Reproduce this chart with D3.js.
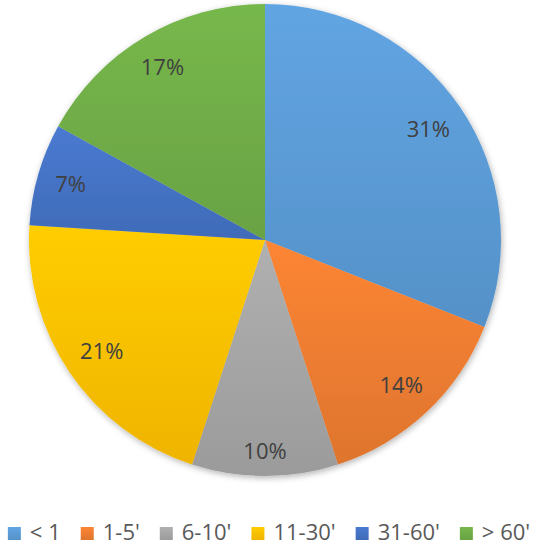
<!DOCTYPE html>
<html>
<head>
<meta charset="utf-8">
<script src="https://cdn.jsdelivr.net/npm/d3@7"></script>
<style>
  html, body { margin: 0; padding: 0; background: #fff; }
  svg { display: block; font-family: "Open Sans", "Liberation Sans", sans-serif; }
</style>
</head>
<body>
<svg id="chart" width="538" height="550"></svg>
<script>
// data
var categories = ["< 1", "1-5'", "6-10'", "11-30'", "31-60'", "> 60'"];
var shares = [31, 14, 10, 21, 7, 17];
var sliceColors = ["#5B9BD5", "#ED7D31", "#A5A5A5", "#FFC000", "#4472C4", "#70AD47"];

var svg = d3.select("#chart"),
    width = +svg.attr("width"),
    height = +svg.attr("height"),
    cx = 265, cy = 240,
    radius = 236,
    labelPad = 16;

var data = categories.map(function(c, i) {
    return { name: c, value: shares[i], color: sliceColors[i], idx: i };
});

var defs = svg.append("defs");

// soft shadow like the office chart
var shadow = defs.append("filter")
    .attr("id", "shadow")
    .attr("x", "-10%").attr("y", "-10%")
    .attr("width", "120%").attr("height", "120%");
shadow.append("feDropShadow")
    .attr("dx", 1).attr("dy", 2)
    .attr("stdDeviation", 3)
    .attr("flood-color", "#000")
    .attr("flood-opacity", 0.3);

// one vertical gradient per colour, lighter at top
data.forEach(function(d) {
    var g = defs.append("linearGradient")
        .attr("id", "grad" + d.idx)
        .attr("x1", 0).attr("y1", 0)
        .attr("x2", 0).attr("y2", 1);
    g.append("stop").attr("offset", "0%")
        .attr("stop-color", d3.color(d.color).brighter(0.18).formatHex());
    g.append("stop").attr("offset", "100%")
        .attr("stop-color", d3.color(d.color).darker(0.18).formatHex());
});

var pie = d3.pie()
    .sort(null)
    .value(function(d) { return d.value; });

var arc = d3.arc()
    .innerRadius(0)
    .outerRadius(radius);

var arcs = pie(data);

var g = svg.append("g")
    .attr("transform", "translate(" + cx + "," + cy + ")");

g.append("g")
    .attr("filter", "url(#shadow)")
    .selectAll("path")
    .data(arcs)
    .enter().append("path")
    .attr("d", arc)
    .attr("fill", function(d) { return "url(#grad" + d.data.idx + ")"; });

// labels: push each one out along its mid angle until its box meets the rim
var labels = g.selectAll("text.pct")
    .data(arcs)
    .enter().append("text")
    .attr("class", "pct")
    .attr("text-anchor", "middle")
    .attr("font-size", 22)
    .attr("fill", "#404040")
    .text(function(d) { return d.data.value + "%"; });

labels.each(function(d) {
    var bb = this.getBBox();
    var w = bb.width, h = 16;
    var mid = (d.startAngle + d.endAngle) / 2;
    var sx = Math.sin(mid), sy = -Math.cos(mid);
    var best = 0;
    for (var k = 0; k < radius; k += 0.5) {
        var px = sx * k, py = sy * k;
        var far = 0;
        [[-1, -1], [1, -1], [-1, 1], [1, 1]].forEach(function(c) {
            var dx = px + c[0] * w / 2, dy = py + c[1] * h / 2;
            far = Math.max(far, Math.sqrt(dx * dx + dy * dy));
        });
        if (far <= radius - labelPad) best = k;
    }
    d3.select(this)
        .attr("x", sx * best)
        .attr("y", sy * best + h / 2);
});

// legend along the bottom, laid out by measured widths
var legend = svg.append("g").attr("class", "legend");
var box = 13, gapIn = 9, gapOut = 20;

var items = legend.selectAll("g")
    .data(data)
    .enter().append("g");

items.append("rect")
    .attr("width", box)
    .attr("height", box)
    .attr("y", -box)
    .attr("fill", function(d) { return "url(#grad" + d.idx + ")"; });

items.append("text")
    .attr("x", box + gapIn)
    .attr("font-size", 22)
    .attr("fill", "#595959")
    .text(function(d) { return d.name; });

var xs = [], total = 0;
items.each(function() {
    var tw = d3.select(this).select("text").node().getComputedTextLength();
    xs.push(total);
    total += box + gapIn + tw + gapOut;
});
total -= gapOut;
var startX = (width - total) / 2;

items.attr("transform", function(d, i) {
    return "translate(" + (startX + xs[i]) + ",540)";
});
</script>
</body>
</html>
